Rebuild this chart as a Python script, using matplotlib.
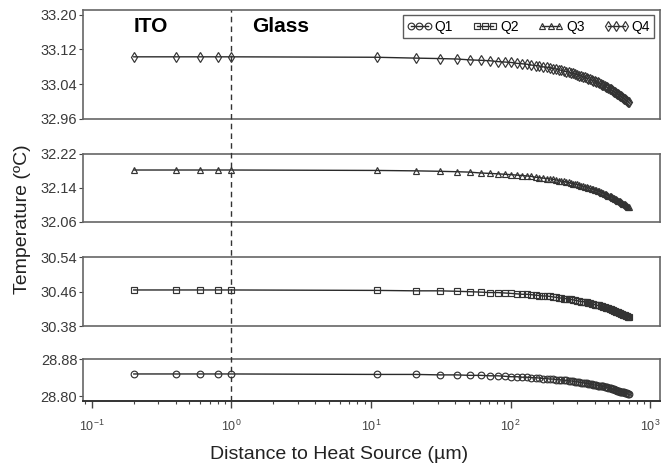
import matplotlib
matplotlib.use('Agg')
import matplotlib.pyplot as plt
from matplotlib.ticker import FormatStrFormatter, FixedLocator, LogLocator, NullFormatter
import numpy as np

plt.rcParams['font.family'] = ['Liberation Sans Narrow', 'Liberation Sans', 'DejaVu Sans']

# distance to heat source (um): ITO layer then glass
dist = [0.2, 0.4, 0.6, 0.8, 1.0,
        11, 21, 31, 41, 51, 61, 71, 81, 91, 101, 111, 121, 131, 141, 151, 161, 171, 181, 191, 201,
        211, 221, 231, 241, 251, 261, 271, 281, 291, 301, 311, 321, 331, 341, 351, 361, 371, 381, 391, 401,
        411, 421, 431, 441, 451, 461, 471, 481, 491, 501, 511, 521, 531, 541, 551, 561, 571, 581, 591, 601,
        611, 621, 631, 641, 651, 661, 671, 681, 691, 701]

q4 = [33.103, 33.103, 33.103, 33.103, 33.103,
      33.102, 33.100, 33.099, 33.098, 33.096, 33.095, 33.094, 33.092, 33.091, 33.090,
      33.088, 33.087, 33.086, 33.084, 33.083, 33.082, 33.080, 33.079, 33.078, 33.076,
      33.075, 33.073, 33.072, 33.070, 33.069, 33.068, 33.066, 33.065, 33.063, 33.062,
      33.060, 33.059, 33.057, 33.056, 33.054, 33.053, 33.051, 33.050, 33.048, 33.047,
      33.045, 33.044, 33.042, 33.041, 33.039, 33.037, 33.036, 33.034, 33.033, 33.031,
      33.030, 33.028, 33.026, 33.025, 33.023, 33.021, 33.020, 33.018, 33.017, 33.015,
      33.013, 33.012, 33.010, 33.008, 33.007, 33.005, 33.003, 33.001, 33.000, 32.998]

q3 = [32.182, 32.182, 32.182, 32.182, 32.182,
      32.181, 32.180, 32.179, 32.178, 32.177, 32.175, 32.174, 32.173, 32.172, 32.171,
      32.170, 32.169, 32.168, 32.167, 32.165, 32.164, 32.163, 32.162, 32.161, 32.160,
      32.159, 32.157, 32.156, 32.155, 32.154, 32.153, 32.151, 32.150, 32.149, 32.148,
      32.147, 32.145, 32.144, 32.143, 32.142, 32.140, 32.139, 32.138, 32.137, 32.135,
      32.134, 32.133, 32.132, 32.130, 32.129, 32.128, 32.126, 32.125, 32.124, 32.122,
      32.121, 32.120, 32.118, 32.117, 32.116, 32.114, 32.113, 32.112, 32.110, 32.109,
      32.108, 32.106, 32.105, 32.103, 32.102, 32.101, 32.099, 32.098, 32.096, 32.095]

q2 = [30.464, 30.464, 30.464, 30.464, 30.464,
      30.463, 30.462, 30.462, 30.461, 30.460, 30.459, 30.458, 30.458, 30.457, 30.456,
      30.455, 30.454, 30.454, 30.453, 30.452, 30.451, 30.450, 30.450, 30.449, 30.448,
      30.447, 30.446, 30.445, 30.444, 30.444, 30.443, 30.442, 30.441, 30.440, 30.439,
      30.438, 30.437, 30.437, 30.436, 30.435, 30.434, 30.433, 30.432, 30.431, 30.430,
      30.429, 30.428, 30.428, 30.427, 30.426, 30.425, 30.424, 30.423, 30.422, 30.421,
      30.420, 30.419, 30.418, 30.417, 30.416, 30.415, 30.414, 30.413, 30.412, 30.411,
      30.410, 30.409, 30.408, 30.407, 30.406, 30.405, 30.404, 30.403, 30.402, 30.401]

q1 = [28.848, 28.848, 28.848, 28.848, 28.848,
      28.847, 28.847, 28.846, 28.846, 28.845, 28.845, 28.844, 28.844, 28.843, 28.842,
      28.842, 28.841, 28.841, 28.840, 28.840, 28.839, 28.838, 28.838, 28.837, 28.837,
      28.836, 28.836, 28.835, 28.834, 28.834, 28.833, 28.833, 28.832, 28.831, 28.831,
      28.830, 28.829, 28.829, 28.828, 28.828, 28.827, 28.826, 28.826, 28.825, 28.824,
      28.824, 28.823, 28.823, 28.822, 28.821, 28.821, 28.820, 28.819, 28.819, 28.818,
      28.817, 28.817, 28.816, 28.815, 28.815, 28.814, 28.813, 28.812, 28.812, 28.811,
      28.810, 28.810, 28.809, 28.808, 28.808, 28.807, 28.806, 28.806, 28.805, 28.804]

# panels top to bottom: (series, label, marker, yticks, ylim)
panels = [
    (q4, 'Q4', 'd', [32.96, 33.04, 33.12, 33.20], (32.96, 33.211)),
    (q3, 'Q3', '^', [32.06, 32.14, 32.22], (32.06, 32.22)),
    (q2, 'Q2', 's', [30.38, 30.46, 30.54], (30.38, 30.54)),
    (q1, 'Q1', 'o', [28.80, 28.88], (28.789, 28.88)),
]
# axes rectangles in figure fraction
rects = [
    [0.124, 0.748, 0.864, 0.231],
    [0.124, 0.530, 0.864, 0.144],
    [0.124, 0.309, 0.864, 0.146],
    [0.124, 0.150, 0.864, 0.089],
]

fig = plt.figure(figsize=(6.68, 4.72), dpi=100)
xlim = (10 ** -1.064, 10 ** 3.07)
line_col = '#2a2a2a'
spine_col = '#666666'

axes = []
handles = {}
for (vals, lab, mk, yt, yl), r in zip(panels, rects):
    ax = fig.add_axes(r)
    h, = ax.plot(dist, vals, '-', color=line_col, lw=1.0, marker=mk,
                 markersize=4.8, markerfacecolor='none',
                 markeredgecolor='#333333', markeredgewidth=0.85, label=lab)
    handles[lab] = h
    ax.set_xscale('log')
    ax.set_xlim(xlim)
    ax.set_ylim(yl)
    ax.yaxis.set_major_locator(FixedLocator(yt))
    ax.yaxis.set_major_formatter(FormatStrFormatter('%.2f'))
    ax.tick_params(axis='y', direction='out', length=3, width=0.8, colors='#444444',
                   labelsize=10.5, labelcolor='#3a3a3a', pad=1)
    for s in ax.spines.values():
        s.set_color(spine_col)
        s.set_linewidth(1.2)
    axes.append(ax)

for ax in axes[:-1]:
    ax.tick_params(axis='x', which='both', bottom=False, labelbottom=False)

axb = axes[-1]
axb.xaxis.set_major_locator(LogLocator(base=10, numticks=10))
axb.xaxis.set_minor_locator(LogLocator(base=10, subs=np.arange(2, 10), numticks=10))
axb.xaxis.set_minor_formatter(NullFormatter())
axb.tick_params(axis='x', which='major', direction='out', length=5, width=1, colors='#444444',
                labelsize=9, labelcolor='#444444', pad=8)
axb.tick_params(axis='x', which='minor', direction='out', length=2.5, width=0.8, colors='#444444')
axb.spines['bottom'].set_color('#333333')
axb.spines['bottom'].set_linewidth(1.4)

# dashed ITO / glass boundary running through all panels
ov = fig.add_axes([0.124, 0.150, 0.864, 0.979 - 0.150])
ov.set_xscale('log')
ov.set_xlim(xlim)
ov.axis('off')
ov.patch.set_alpha(0)
ov.axvline(1.0, color='#333333', lw=1.0, ls=(0, (4, 3)))

axt = axes[0]
axt.text(0.2, 0.85, 'ITO', transform=axt.get_xaxis_transform(), fontsize=15, fontweight='bold',
         family=['Liberation Sans', 'DejaVu Sans'], ha='left', va='center')
axt.text(1.4, 0.85, 'Glass', transform=axt.get_xaxis_transform(), fontsize=15, fontweight='bold',
         family=['Liberation Sans', 'DejaVu Sans'], ha='left', va='center')

leg = axt.legend([handles[k] for k in ['Q1', 'Q2', 'Q3', 'Q4']], ['Q1', 'Q2', 'Q3', 'Q4'],
                 loc='upper right', ncol=4, numpoints=3, fontsize=10, frameon=True,
                 fancybox=False, edgecolor='#333333', handlelength=1.8, handletextpad=0.2,
                 columnspacing=1.4, borderpad=0.3, borderaxespad=0.4)
leg.get_frame().set_linewidth(1.0)

fig.text(0.033, 0.536, 'Temperature (ºC)', rotation=90, ha='center', va='center', fontsize=14,
         family=['Liberation Sans', 'DejaVu Sans'], color='#222222')
fig.text(0.508, 0.038, 'Distance to Heat Source (µm)', ha='center', va='center', fontsize=14,
         family=['Liberation Sans', 'DejaVu Sans'], color='#222222')

fig.savefig('out.png', dpi=100)
